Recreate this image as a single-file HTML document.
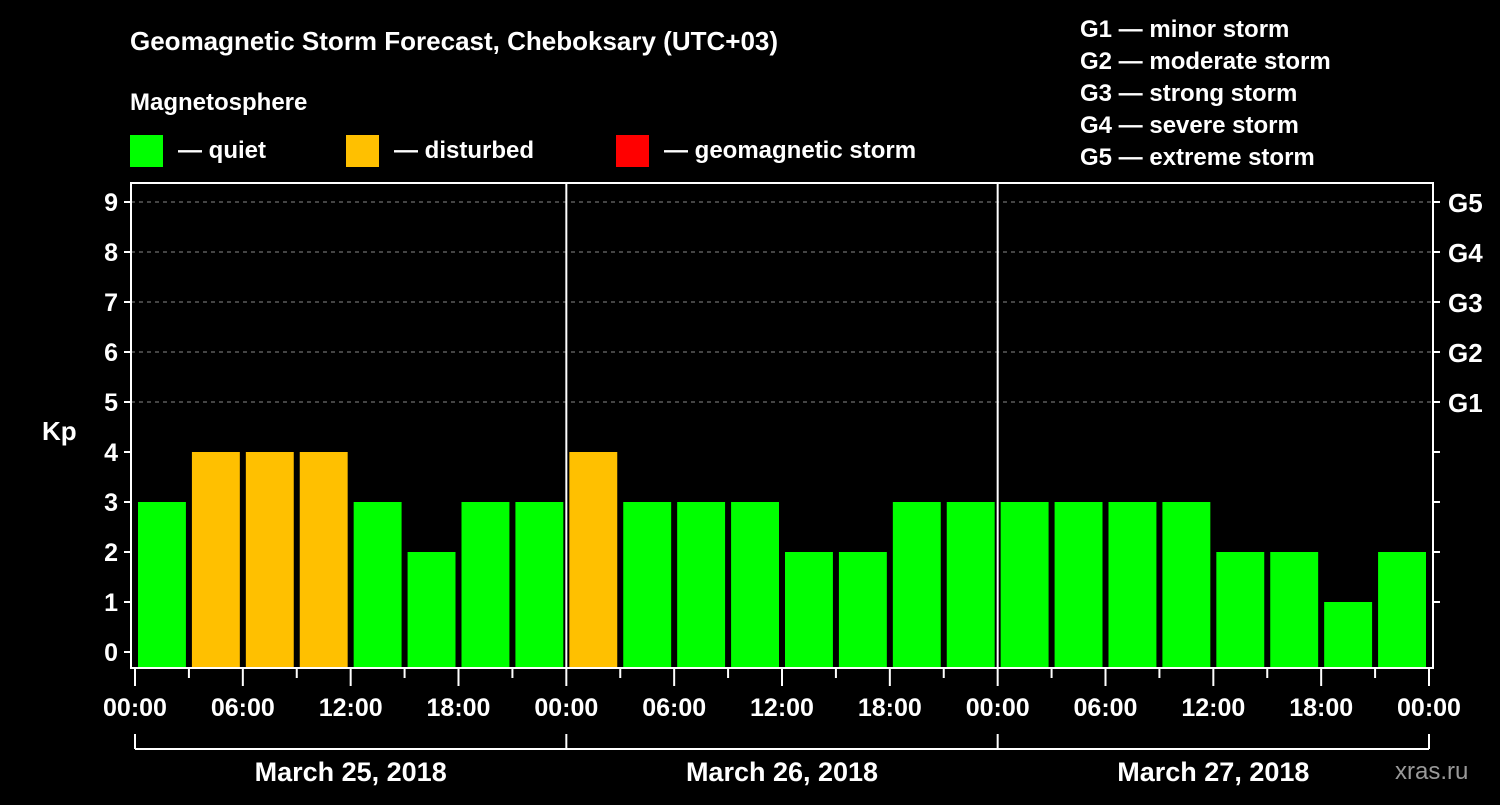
<!DOCTYPE html>
<html><head><meta charset="utf-8"><style>
body{margin:0;background:#000;width:1500px;height:800px;overflow:hidden}
text{font-family:"Liberation Sans",sans-serif;font-weight:bold;fill:#fff}
</style></head><body>
<svg id="c" width="1500" height="800">
<text x="130" y="50" font-size="26">Geomagnetic Storm Forecast, Cheboksary (UTC+03)</text>
<text x="130" y="110" font-size="24">Magnetosphere</text>
<rect x="130" y="135" width="33" height="32" fill="#00ff00"/>
<text x="178" y="158" font-size="24">— quiet</text>
<rect x="346" y="135" width="33" height="32" fill="#ffc000"/>
<text x="394" y="158" font-size="24">— disturbed</text>
<rect x="616" y="135" width="33" height="32" fill="#ff0000"/>
<text x="664" y="158" font-size="24">— geomagnetic storm</text>
<g font-size="24">
<text x="1080" y="37">G1 — minor storm</text>
<text x="1080" y="69">G2 — moderate storm</text>
<text x="1080" y="101">G3 — strong storm</text>
<text x="1080" y="133">G4 — severe storm</text>
<text x="1080" y="165">G5 — extreme storm</text>
</g>
<text x="42" y="440" font-size="26">Kp</text>
<text x="1395" y="779" font-size="24" fill="#888" style="fill:#999;font-weight:normal">xras.ru</text>
<g id="grid"></g><g id="bars"></g><g id="axes"></g>
</svg>
<script>
const kpValues=[3,4,4,4,3,2,3,3, 4,3,3,3,2,2,3,3, 3,3,3,3,2,2,1,2];
const yTicks=[0,1,2,3,4,5,6,7,8,9];
const gLabels=["G1","G2","G3","G4","G5"];
const timeLabels=["00:00","06:00","12:00","18:00","00:00","06:00","12:00","18:00","00:00","06:00","12:00","18:00","00:00"];
const dayLabels=["March 25, 2018","March 26, 2018","March 27, 2018"];
const NS="http://www.w3.org/2000/svg";
const X0=135,X1=1429,slot=(X1-X0)/kpValues.length;
const y=v=>652-v*50;
const x=i=>X0+i*slot;
function mk(p,t,a){const e=document.createElementNS(NS,t);for(const k in a)e.setAttribute(k,a[k]);document.getElementById(p).appendChild(e);return e;}
yTicks.forEach(v=>{
 if(v>=5){const l=mk('grid','line',{x1:131,x2:1433,y1:y(v),y2:y(v),stroke:'#888','stroke-dasharray':'4,4'});
 
 }
 mk('axes','line',{x1:124,x2:131,y1:y(v),y2:y(v),stroke:'#fff','stroke-width':2});
 if(v>=1)mk('axes','line',{x1:1433,x2:1440,y1:y(v),y2:y(v),stroke:'#fff','stroke-width':2});
 const t=mk('axes','text',{x:118,y:y(v)+9,'font-size':25,'text-anchor':'end'});t.textContent=v;
 
 
});
gLabels.forEach((g,i)=>{const t=mk('axes','text',{x:1448,y:y(5+i)+10,'font-size':26});t.textContent=g;
 
 });
kpValues.forEach((v,i)=>{
 const c=v>=5?'#ff0000':v>=4?'#ffc000':'#00ff00';
 const r=mk('bars','rect',{x:x(i)+3,y:y(v),width:slot-6,height:668-y(v),fill:c});
 
 
});
mk('axes','rect',{x:131,y:183,width:1302,height:485,fill:'none',stroke:'#fff','stroke-width':2});
[1,2].forEach(d=>mk('axes','line',{x1:x(d*8),x2:x(d*8),y1:183,y2:668,stroke:'#fff','stroke-width':2}));
kpValues.forEach((v,i)=>mk('axes','line',{x1:x(i),x2:x(i),y1:668,y2:i%2?678:686,stroke:'#fff','stroke-width':2}));
mk('axes','line',{x1:X1,x2:X1,y1:668,y2:686,stroke:'#fff','stroke-width':2});
timeLabels.forEach((s,i)=>{const t=mk('axes','text',{x:x(i*2),y:716,'font-size':25,'text-anchor':'middle'});t.textContent=s;
 
 });
mk('axes','line',{x1:X0,x2:X1,y1:749,y2:749,stroke:'#fff','stroke-width':2});
[0,1,2,3].forEach(d=>mk('axes','line',{x1:x(d*8),x2:x(d*8),y1:734,y2:749,stroke:'#fff','stroke-width':2}));
dayLabels.forEach((s,d)=>{const t=mk('axes','text',{x:x(d*8+4),y:781,'font-size':27,'text-anchor':'middle'});t.textContent=s;
 
 });
</script>
</body></html>
